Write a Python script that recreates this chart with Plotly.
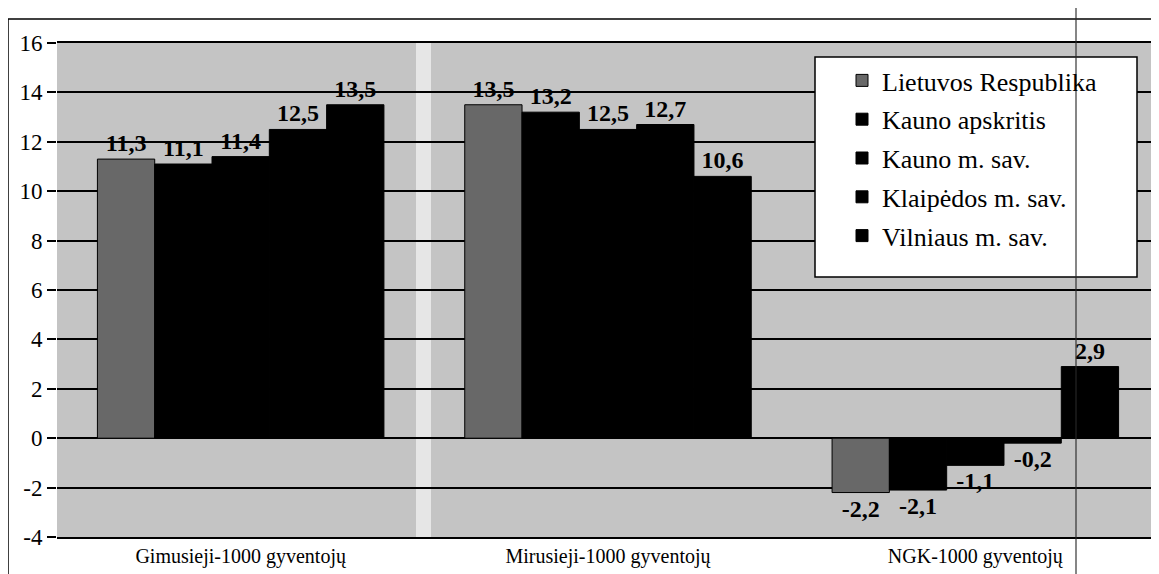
import plotly.graph_objects as go

categories = ["Gimusieji-1000 gyventojų", "Mirusieji-1000 gyventojų", "NGK-1000 gyventojų"]
series_names = ["Lietuvos Respublika", "Kauno apskritis", "Kauno m. sav.", "Klaipėdos m. sav.", "Vilniaus m. sav."]
lietuvos = [11.3, 13.5, -2.2]
kauno_apskr = [11.1, 13.2, -2.1]
kauno_m = [11.4, 12.5, -1.1]
klaipedos_m = [12.5, 12.7, -0.2]
vilniaus_m = [13.5, 10.6, 2.9]
series_values = [lietuvos, kauno_apskr, kauno_m, klaipedos_m, vilniaus_m]
colors = ["#686868", "#000000", "#000000", "#000000", "#000000"]
y_ticks = [-4, -2, 0, 2, 4, 6, 8, 10, 12, 14, 16]
y_ticktext = ["-4", "-2", "0", "2", "4", "6", "8", "10", "12", "14", "16"]

FONT = "Liberation Serif"

def fmt(v):
    return f"{v:.1f}".replace(".", ",")

fig = go.Figure()
for i, (name, vals) in enumerate(zip(series_names, series_values)):
    fig.add_trace(go.Bar(
        name=name, x=categories, y=vals,
        marker=dict(color=colors[i], line=dict(color="#000000", width=1)),
        text=[fmt(v) for v in vals], texttemplate="<b>%{text}</b>", textposition="outside",
        textfont=dict(family=FONT, size=24, color="#000000"),
        cliponaxis=False, legendgroup=f"g{i}",
    ))

OFF = 8
L, R_EDGE, T, B = 57, 1159, 43, 537
W = R_EDGE - L
H = B - T
def px(x):
    return (x - L) / W
def py(y):
    return (B - y) / H

shapes = [
    dict(type="line", xref="paper", yref="paper", x0=px(8), x1=px(1159), y0=py(19), y1=py(19),
         line=dict(color="#000", width=1.5)),
    dict(type="line", xref="paper", yref="paper", x0=px(8), x1=px(8), y0=py(19), y1=py(582),
         line=dict(color="#000", width=1.5)),
    dict(type="rect", xref="paper", yref="paper", x0=px(416), x1=px(431), y0=0, y1=1,
         fillcolor="rgba(245,245,245,0.7)", line=dict(width=0), layer="below"),
    dict(type="rect", xref="paper", yref="paper", x0=px(815), x1=px(1137), y0=py(277), y1=py(57),
         fillcolor="#ffffff", line=dict(color="#000", width=1.5), layer="above"),
    dict(type="line", xref="paper", yref="paper", x0=px(1076), x1=px(1076), y0=py(8), y1=py(582),
         line=dict(color="rgba(40,40,40,0.75)", width=1.5), layer="above"),
]

fig.update_layout(
    width=1159, height=574,
    margin=dict(l=L - OFF, r=1159 - (R_EDGE - OFF), t=T - OFF, b=574 - (B - OFF)),
    paper_bgcolor="#ffffff", plot_bgcolor="#c4c4c4",
    barmode="group", bargap=0.22, bargroupgap=0,
    font=dict(family=FONT, size=20, color="#000000"),
    showlegend=True,
    legend=dict(x=px(842), y=py(57), xanchor="left", yanchor="top",
                bgcolor="rgba(0,0,0,0)", borderwidth=0,
                font=dict(family=FONT, size=26, color="#000"),
                tracegroupgap=2, itemwidth=30),
    shapes=shapes,
    xaxis=dict(showgrid=False, showline=True, linecolor="#000", linewidth=1.5, mirror=True,
               ticks="", tickfont=dict(family=FONT, size=20, color="#000")),
    yaxis=dict(range=[-4, 16], tickvals=y_ticks, ticktext=y_ticktext,
               showgrid=True, gridcolor="#000", gridwidth=1.5,
               zeroline=True, zerolinecolor="#000", zerolinewidth=1.5,
               ticks="outside", ticklen=9, tickcolor="#000", tickwidth=1.5,
               showline=False, tickfont=dict(family=FONT, size=23, color="#000")),
)

fig.write_html("out.html")
